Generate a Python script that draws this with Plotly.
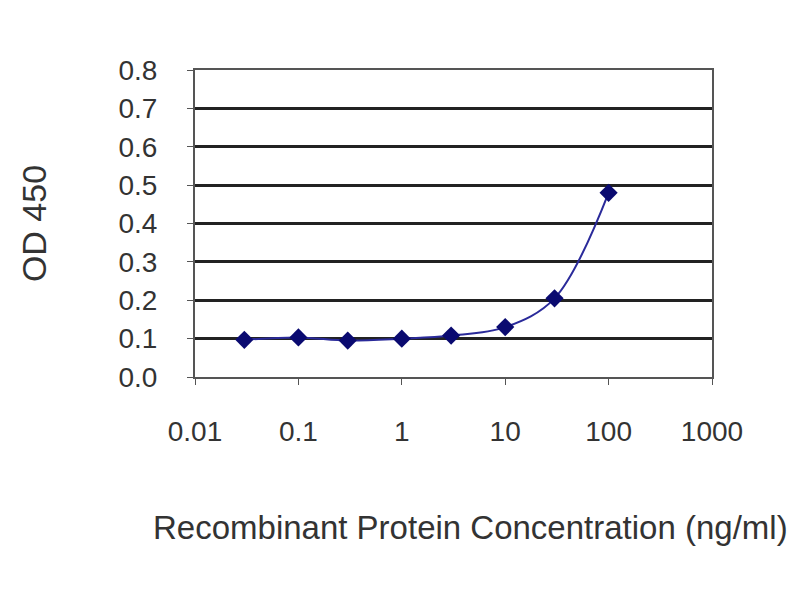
import plotly.graph_objects as go

concentration = [0.03, 0.1, 0.3, 1, 3, 10, 30, 100]
od450 = [0.097, 0.103, 0.095, 0.100, 0.108, 0.130, 0.205, 0.480]
x_ticks = [0.01, 0.1, 1, 10, 100, 1000]
x_tick_labels = ["0.01", "0.1", "1", "10", "100", "1000"]
y_ticks = [0.0, 0.1, 0.2, 0.3, 0.4, 0.5, 0.6, 0.7, 0.8]
y_tick_labels = ["0.0", "0.1", "0.2", "0.3", "0.4", "0.5", "0.6", "0.7", "0.8"]
x_title = "Recombinant Protein Concentration (ng/ml)"
y_title = "OD 450"

font_family = "Liberation Sans, Arial, sans-serif"

fig = go.Figure()
fig.add_trace(go.Scatter(
    x=concentration, y=od450,
    mode="lines+markers",
    line=dict(color="#2a2a9a", width=2, shape="spline", smoothing=1.0),
    marker=dict(symbol="diamond", size=14, color="#0a0a70"),
    showlegend=False,
))

fig.update_layout(
    width=800, height=600,
    margin=dict(l=187, r=96, t=62, b=231),
    paper_bgcolor="white",
    plot_bgcolor="white",
    font=dict(family=font_family, color="#333333", size=28),
    xaxis=dict(
        type="log",
        range=[-2, 3],
        tickvals=x_ticks,
        ticktext=x_tick_labels,
        ticks="outside", ticklen=6, tickcolor="#555555",
        showgrid=False,
        showline=True, linecolor="#555555", linewidth=2, mirror=True,
        tickfont=dict(size=28, color="#333333"),
        ticklabelstandoff=22,
        automargin=False,
        zeroline=False,
    ),
    yaxis=dict(
        range=[0, 0.8],
        tickvals=y_ticks,
        ticktext=y_tick_labels,
        ticks="outside", ticklen=6, tickcolor="#555555",
        showgrid=True, gridcolor="#222222", gridwidth=3,
        showline=True, linecolor="#555555", linewidth=2, mirror=True,
        tickfont=dict(size=28, color="#333333"),
        ticklabelstandoff=24,
        automargin=False,
        title=dict(text=y_title, font=dict(size=34, color="#333333"), standoff=62),
        zeroline=False,
    ),
    annotations=[dict(
        text=x_title, xref="paper", yref="paper",
        x=0.532, y=0, xanchor="center", yanchor="middle", yshift=-150,
        showarrow=False, font=dict(size=33, color="#333333"),
    )],
)

fig.write_html("out.html")
